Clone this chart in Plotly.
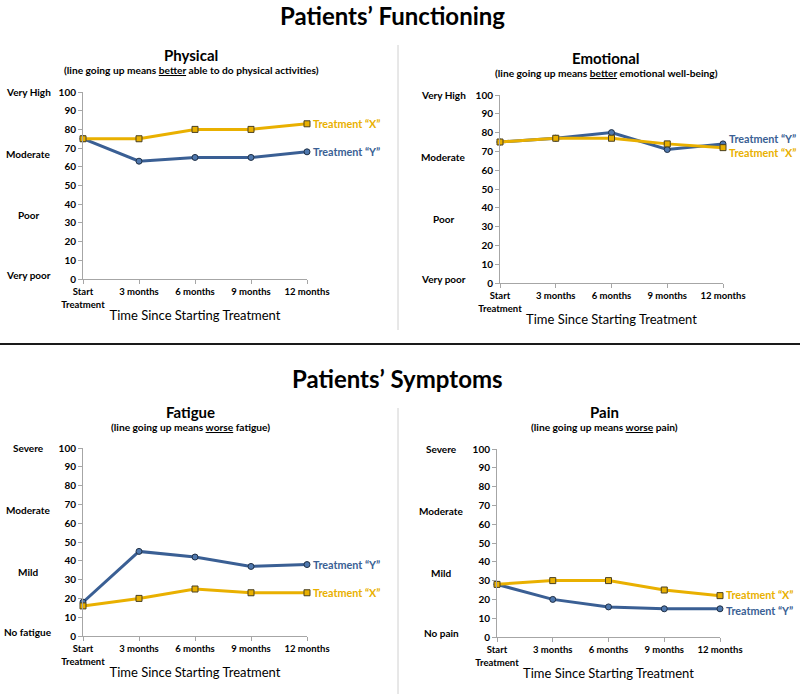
import plotly.graph_objects as go

# ---------------- data ----------------
time_labels = ["Start<br>Treatment", "3 months", "6 months", "9 months", "12 months"]
time_idx = [0, 1, 2, 3, 4]

physical_x = [75, 75, 80, 80, 83]
physical_y = [75, 63, 65, 65, 68]
emotional_x = [75, 77, 77, 74, 72]
emotional_y = [75, 77, 80, 71, 74]
fatigue_x = [16, 20, 25, 23, 23]
fatigue_y = [18, 45, 42, 37, 38]
pain_x = [28, 30, 30, 25, 22]
pain_y = [28, 20, 16, 15, 15]

y_ticks = [0, 10, 20, 30, 40, 50, 60, 70, 80, 90, 100]
function_levels = ["Very High", "Moderate", "Poor", "Very poor"]
fatigue_levels = ["Severe", "Moderate", "Mild", "No fatigue"]
pain_levels = ["Severe", "Moderate", "Mild", "No pain"]
level_pos = [100, 67, 34, 2]

section_titles = ["Patients\u2019 Functioning", "Patients\u2019 Symptoms"]
panel_titles = ["Physical", "Emotional", "Fatigue", "Pain"]
panel_subtitles = [
    "(line going up means <u>better</u> able to do physical activities)",
    "(line going up means <u>better</u> emotional well-being)",
    "(line going up means <u>worse</u> fatigue)",
    "(line going up means <u>worse</u> pain)",
]
x_title = "Time Since Starting Treatment"
name_x = "Treatment \u201cX\u201d"
name_y = "Treatment \u201cY\u201d"

# ---------------- style ----------------
W, H = 800, 694
FONT = "Lato"
GOLD = "#E9B000"
BLUE = "#3A5F94"
BLUE_M = "#4F78AE"
AXIS = "#A6A6A6"


def px(x):
    return x / W


def py(y):
    return 1 - y / H


# panel geometry in pixels: (x0, x1), (ytop, ybottom)
panels = [
    dict(xs=(83, 307), ys=(92, 279), X=physical_x, Y=physical_y, levels=function_levels,
         lvl_x=28, title_x=191, title_y=55, sub_y=70, shift_y=0, shift_x=0),
    dict(xs=(500, 723), ys=(95, 283), X=emotional_x, Y=emotional_y, levels=function_levels,
         lvl_x=443, title_x=606, title_y=58, sub_y=73, shift_y=5, shift_x=-5),
    dict(xs=(83, 307), ys=(448, 636), X=fatigue_x, Y=fatigue_y, levels=fatigue_levels,
         lvl_x=28, title_x=190, title_y=412, sub_y=427, shift_y=0, shift_x=0),
    dict(xs=(497, 720), ys=(449, 637), X=pain_x, Y=pain_y, levels=pain_levels,
         lvl_x=441, title_x=604, title_y=412, sub_y=427, shift_y=-2, shift_x=1),
]

fig = go.Figure()
annotations = []
layout_axes = {}

for i, p in enumerate(panels, start=1):
    xa = "x" if i == 1 else f"x{i}"
    ya = "y" if i == 1 else f"y{i}"
    xkey = "xaxis" if i == 1 else f"xaxis{i}"
    ykey = "yaxis" if i == 1 else f"yaxis{i}"

    fig.add_trace(go.Scatter(
        x=time_idx, y=p["Y"], mode="lines+markers", xaxis=xa, yaxis=ya,
        line=dict(color=BLUE, width=3),
        marker=dict(symbol="circle", size=6, color=BLUE_M, line=dict(color="#1F2F45", width=1)),
        cliponaxis=False, showlegend=False, name=name_y))
    fig.add_trace(go.Scatter(
        x=time_idx, y=p["X"], mode="lines+markers", xaxis=xa, yaxis=ya,
        line=dict(color=GOLD, width=3),
        marker=dict(symbol="square", size=6, color=GOLD, line=dict(color="#4A4020", width=1)),
        cliponaxis=False, showlegend=False, name=name_x))

    layout_axes[xkey] = dict(
        domain=[px(p["xs"][0]), px(p["xs"][1])], anchor=ya, range=[0, 4],
        tickmode="array", tickvals=time_idx, ticktext=time_labels,
        showgrid=False, zeroline=False, showline=True, linecolor=AXIS, linewidth=1,
        ticks="outside", ticklen=4, tickcolor=AXIS, automargin=False,
        tickfont=dict(family=FONT, size=9.5, color="#000000", weight="bold"),
        title=dict(text=x_title, font=dict(family=FONT, size=13, color="#000000"), standoff=2),
        fixedrange=True)
    layout_axes[ykey] = dict(
        domain=[py(p["ys"][1]), py(p["ys"][0])], anchor=xa, range=[0, 100],
        tickmode="array", tickvals=y_ticks,
        showgrid=False, zeroline=False, showline=True, linecolor=AXIS, linewidth=1,
        ticks="outside", ticklen=4, tickcolor=AXIS, automargin=False,
        tickfont=dict(family=FONT, size=10, color="#000000", weight="bold"),
        fixedrange=True)

    for lvl, pos in zip(p["levels"], level_pos):
        annotations.append(dict(
            text=f"<b>{lvl}</b>", xref="paper", yref=ya, x=px(p["lvl_x"]), y=pos,
            xanchor="center", yanchor="middle", showarrow=False,
            font=dict(family=FONT, size=10, color="#000000")))

    annotations.append(dict(
        text=f"<b>{panel_titles[i-1]}</b>", xref="paper", yref="paper",
        x=px(p["title_x"]), y=py(p["title_y"]), xanchor="center", yanchor="middle",
        showarrow=False, font=dict(family=FONT, size=15, color="#000000")))
    annotations.append(dict(
        text=f"<b>{panel_subtitles[i-1]}</b>", xref="paper", yref="paper",
        x=px(p["title_x"]), y=py(p["sub_y"]), xanchor="center", yanchor="middle",
        showarrow=False, font=dict(family=FONT, size=10.2, color="#000000")))

    annotations.append(dict(
        text=name_y, xref=xa, yref=ya, x=time_idx[-1], y=p["Y"][-1],
        xanchor="left", yanchor="middle", xshift=4, yshift=p["shift_y"],
        showarrow=False, font=dict(family=FONT, size=10.8, color=BLUE, weight="bold")))
    annotations.append(dict(
        text=name_x, xref=xa, yref=ya, x=time_idx[-1], y=p["X"][-1],
        xanchor="left", yanchor="middle", xshift=4, yshift=p["shift_x"],
        showarrow=False, font=dict(family=FONT, size=10.8, color=GOLD, weight="bold")))

annotations.append(dict(text=f"<b>{section_titles[0]}</b>", xref="paper", yref="paper",
                        x=px(392), y=py(15), xanchor="center", yanchor="middle", showarrow=False,
                        font=dict(family=FONT, size=24, color="#000000")))
annotations.append(dict(text=f"<b>{section_titles[1]}</b>", xref="paper", yref="paper",
                        x=px(397), y=py(378), xanchor="center", yanchor="middle", showarrow=False,
                        font=dict(family=FONT, size=24, color="#000000")))

shapes = [
    dict(type="line", xref="paper", yref="paper", x0=0, x1=1, y0=py(344), y1=py(344),
         line=dict(color="#1A1A1A", width=2)),
    dict(type="line", xref="paper", yref="paper", x0=px(398), x1=px(398), y0=py(45), y1=py(330),
         line=dict(color="#D0D0D0", width=1)),
    dict(type="line", xref="paper", yref="paper", x0=px(398), x1=px(398), y0=py(408), y1=py(694),
         line=dict(color="#D0D0D0", width=1)),
]

fig.update_layout(
    width=W, height=H, margin=dict(l=0, r=0, t=0, b=0, autoexpand=False),
    paper_bgcolor="white", plot_bgcolor="white",
    font=dict(family=FONT, color="#000000"),
    annotations=annotations, shapes=shapes, showlegend=False,
    **layout_axes)

fig.write_html(
    "out.html",
    config={"displayModeBar": False},
    post_script="document.body.style.margin='0';document.body.style.overflow='hidden';",
)
